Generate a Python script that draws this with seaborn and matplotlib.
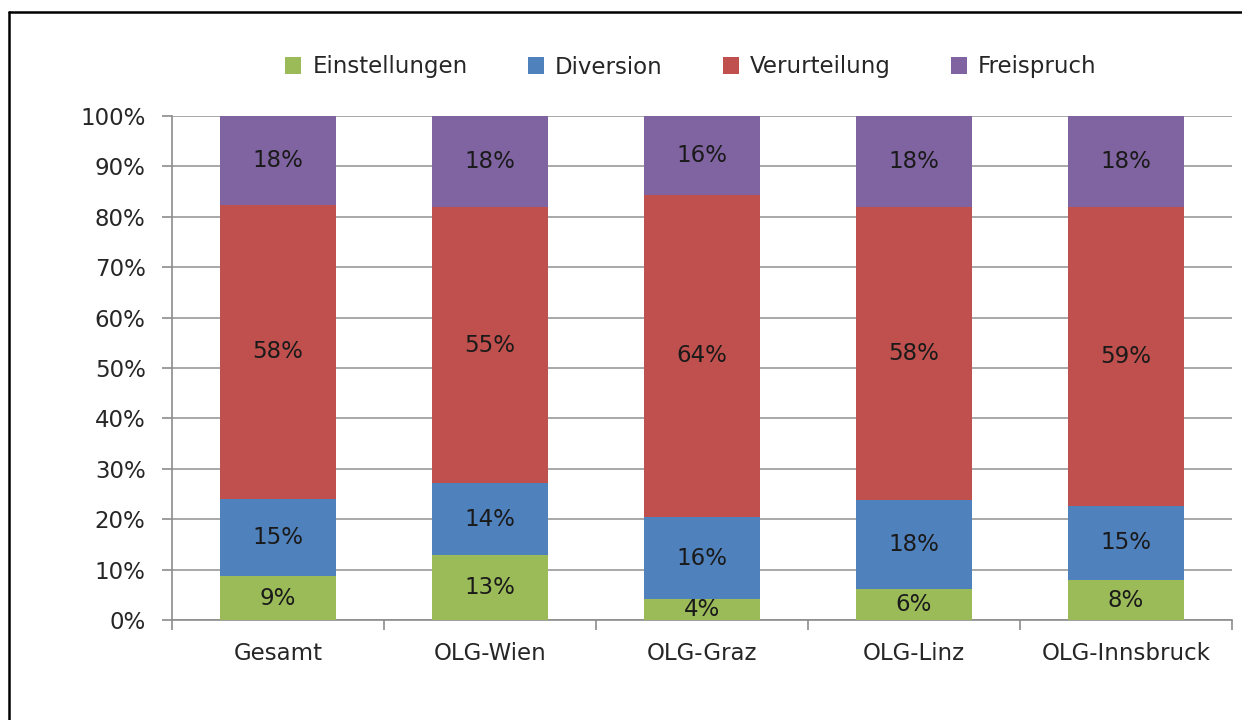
import matplotlib
matplotlib.use("Agg")
import matplotlib.pyplot as plt
import seaborn as sns
import pandas as pd
import numpy as np
from matplotlib.patches import Patch
from matplotlib.lines import Line2D

categories = ["Gesamt", "OLG-Wien", "OLG-Graz", "OLG-Linz", "OLG-Innsbruck"]
einstellungen = [8.7, 12.8, 4.2, 6.2, 7.9]
diversion = [15.4, 14.3, 16.2, 17.7, 14.8]
verurteilung = [58.3, 54.9, 64.0, 58.0, 59.2]
freispruch = [17.6, 18.0, 15.6, 18.1, 18.1]

series_names = ["Einstellungen", "Diversion", "Verurteilung", "Freispruch"]
series_vals = [einstellungen, diversion, verurteilung, freispruch]
colors = ["#9BBB59", "#4F81BD", "#C0504D", "#8064A2"]

sns.set_theme(style="white")
plt.rcParams["font.family"] = ["DejaVu Sans"]

FS = 16.5

fig = plt.figure(figsize=(12.42, 7.2), dpi=100)
ax = fig.add_axes([172/1242, 100/720, 1060/1242, 504/720])

vals = np.array(series_vals)
cum = np.cumsum(vals, axis=0)

# draw from top layer down so lower layers overlay
for i in range(len(series_names) - 1, -1, -1):
    df = pd.DataFrame({"cat": categories, "val": cum[i]})
    sns.barplot(data=df, x="cat", y="val", color=colors[i], width=0.55,
                saturation=1, ax=ax, zorder=3, linewidth=0)

for i in range(len(series_names)):
    for j in range(len(categories)):
        low = cum[i - 1][j] if i > 0 else 0
        mid = (low + cum[i][j]) / 2
        ax.text(j, mid, f"{vals[i][j]:.0f}%", ha="center", va="center",
                fontsize=FS, color="#1a1a1a", zorder=5)

ax.set_ylim(0, 100)
ax.set_xlim(-0.5, len(categories) - 0.5)
ax.set_yticks(np.arange(0, 101, 10))
ax.set_yticklabels([f"{v}%" for v in range(0, 101, 10)], fontsize=FS, color="#262626")
ax.set_xticks(range(len(categories)))
ax.set_xticklabels(categories, fontsize=FS, color="#262626")
ax.set_xlabel("")
ax.set_ylabel("")
ax.yaxis.grid(True, color="#9a9a9a", linewidth=1.2, zorder=0)
ax.set_axisbelow(True)

for s in ["top", "right"]:
    ax.spines[s].set_visible(False)
for s in ["left", "bottom"]:
    ax.spines[s].set_color("#8c8c8c")
    ax.spines[s].set_linewidth(1.2)

ax.tick_params(axis="y", which="major", length=7, width=1.2, color="#8c8c8c",
               left=True, pad=12)
ax.tick_params(axis="x", which="major", length=0, pad=16)
ax.set_xticks(np.arange(-0.5, len(categories), 1.0), minor=True)
ax.tick_params(axis="x", which="minor", length=7, width=1.2, color="#8c8c8c", bottom=True)

handles = [Patch(facecolor=c, edgecolor="none") for c in colors]
fig.legend(handles, series_names, loc="center", bbox_to_anchor=(691/1242, 1 - 67/720),
           ncol=4, frameon=False, fontsize=FS, handlelength=0.7, handleheight=0.7,
           columnspacing=2.6, handletextpad=0.5)

# outer frame (left and top edges visible)
fig.add_artist(Line2D([9/1242, 9/1242], [0, 1 - 12/720], transform=fig.transFigure,
                      color="black", linewidth=1.8))
fig.add_artist(Line2D([9/1242, 1], [1 - 12/720, 1 - 12/720], transform=fig.transFigure,
                      color="black", linewidth=1.8))

fig.savefig("out.png", dpi=100, facecolor="white")
